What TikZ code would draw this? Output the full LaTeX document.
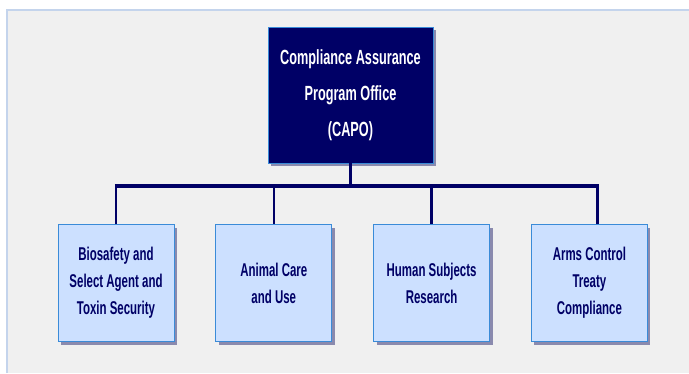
\documentclass[tikz,border=0pt]{standalone}
\usepackage{fontspec}
\setmainfont[FakeStretch=0.62]{Liberation Sans}
\usepackage{tikz}
\usetikzlibrary{positioning,shadows}

\definecolor{capoblue}{HTML}{000066}
\definecolor{unitfill}{HTML}{CCE0FF}
\definecolor{unitedge}{HTML}{3A8BD8}
\definecolor{shadowgray}{HTML}{8A8AAE}
\definecolor{panelgray}{HTML}{F0F0F0}
\definecolor{paneledge}{HTML}{C4D4EC}

\begin{document}
\begin{tikzpicture}[%
		x=1pt, y=-1pt,
		node distance=41pt,
		boxshadow/.style={%
			drop shadow={shadow xshift=3pt, shadow yshift=-3pt,
				fill=shadowgray, opacity=1}
		},
		capobox/.style={%
			boxshadow,
			draw=unitedge,
			fill=capoblue,
			text=white,
			line width=0.8pt,
			minimum width=165pt,
			minimum height=136pt,
			align=center,
			font=\bfseries\fontsize{20.5}{36}\selectfont
		},
		unitbox/.style={%
			boxshadow,
			draw=unitedge,
			fill=unitfill,
			text=capoblue,
			line width=0.8pt,
			minimum width=116pt,
			minimum height=117pt,
			align=center,
			font=\bfseries\fontsize{18.5}{27}\selectfont
		},
		link/.style={draw=capoblue, line width=2.5pt},
		bar/.style={draw=capoblue, line width=4pt}
		]
		\useasboundingbox (0,0) rectangle (689,373);
		\fill[panelgray] (6,9) rectangle (689,373);
		\draw[paneledge, line width=1.5pt] (6.75,373) -- (6.75,9.75) -- (689,9.75);

		\node[capobox] (capo) at (350.5,95)        {Compliance Assurance\\Program Office\\(CAPO)};
		\node[unitbox] (bio) at (116,283)           {Biosafety and\\Select Agent and\\Toxin Security};
		\node[unitbox] (animal) [right=of bio]      {Animal Care\\and Use};
		\node[unitbox] (human) [right=of animal]    {Human Subjects\\Research};
		\node[unitbox] (arms) [right=of human]      {Arms Control\\Treaty\\Compliance};

		\coordinate (split) at (capo.south |- 0,186);
		\coordinate (armsdrop) at ([xshift=8pt]arms.north);

		% tree lines
		\draw[link] (capo.south) -- (split);
		\draw[bar] ([xshift=-1.25pt]bio.north |- split) -- ([xshift=1.25pt]armsdrop |- split);
		\foreach \u in {bio,animal,human}
			\draw[link] (\u.north |- split) -- (\u.north);
		\draw[link] (armsdrop |- split) -- (armsdrop);
\end{tikzpicture}
\end{document}
